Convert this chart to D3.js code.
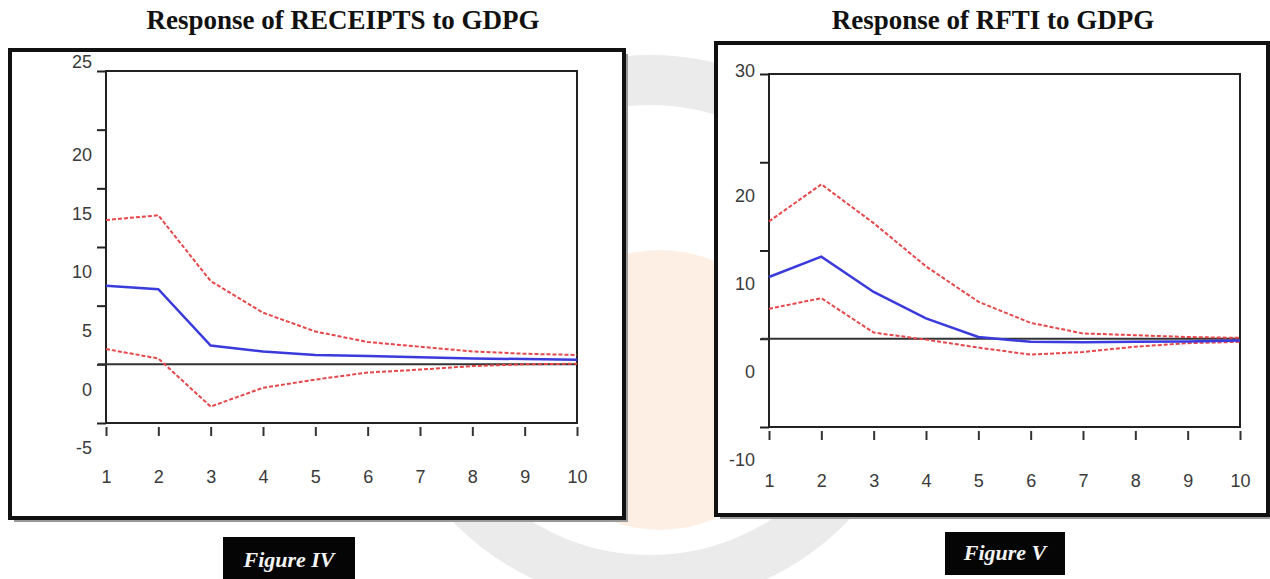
<!DOCTYPE html>
<html>
<head>
<meta charset="utf-8">
<script src="https://cdn.jsdelivr.net/npm/d3@7"></script>
<style>
  body { margin: 0; background: #fff; }
  svg { display: block; }
</style>
</head>
<body>
<script>
// impulse response data
var periods = [1, 2, 3, 4, 5, 6, 7, 8, 9, 10];

var receiptsResp  = [6.7, 6.4, 1.6, 1.1, 0.8, 0.7, 0.6, 0.5, 0.45, 0.4];
var receiptsUpper = [12.3, 12.7, 7.1, 4.4, 2.8, 1.9, 1.5, 1.1, 0.9, 0.8];
var receiptsLower = [1.3, 0.5, -3.6, -2.0, -1.3, -0.7, -0.45, -0.15, 0.0, 0.05];
var receiptsTicks = [-5, 0, 5, 10, 15, 20, 25];

var rftiResp  = [7.0, 9.3, 5.3, 2.3, 0.2, -0.35, -0.4, -0.35, -0.3, -0.2];
var rftiUpper = [13.3, 17.5, 13.1, 8.2, 4.2, 1.8, 0.6, 0.4, 0.2, 0.1];
var rftiLower = [3.4, 4.6, 0.7, -0.1, -1.0, -1.8, -1.5, -0.9, -0.5, -0.35];
var rftiTicks = [-10, 0, 10, 20, 30];

var w = 1270;
var h = 579;

var svg = d3.select("body").append("svg").attr("width", w).attr("height", h);

// faint watermark behind the figures
var wm = svg.append("g");
wm.append("circle").attr("cx", 650).attr("cy", 330).attr("r", 250)
  .style("fill", "none").style("stroke", "#ebebeb").style("stroke-width", 50);
wm.append("circle").attr("cx", 660).attr("cy", 390).attr("r", 140)
  .style("fill", "#fbe4d2").style("opacity", 0.6);

function drawPanel(p) {
  var g = svg.append("g");

  // outer box with shadow
  g.append("rect")
    .attr("x", p.box[0] + 4).attr("y", p.box[1] + 4)
    .attr("width", p.box[2] - p.box[0]).attr("height", p.box[3] - p.box[1])
    .style("fill", "#9a9a9a");
  g.append("rect")
    .attr("x", p.box[0]).attr("y", p.box[1])
    .attr("width", p.box[2] - p.box[0]).attr("height", p.box[3] - p.box[1])
    .style("fill", "white").style("stroke", "#111").style("stroke-width", 4);

  // title
  svg.append("text")
    .attr("x", p.titleX).attr("y", 29)
    .attr("text-anchor", "middle")
    .style("font-family", "'Liberation Serif', 'Times New Roman', serif")
    .style("font-weight", "bold").style("font-size", "27px").style("fill", "#111")
    .text(p.title);

  var x = d3.scaleLinear().domain([1, 10]).range(p.xr);
  var y = d3.scaleLinear().domain(d3.extent(p.ticks)).range(p.yr);

  // plot frame
  g.append("rect")
    .attr("x", x(1)).attr("y", y(d3.max(p.ticks)))
    .attr("width", x(10) - x(1)).attr("height", y(d3.min(p.ticks)) - y(d3.max(p.ticks)))
    .style("fill", "white").style("stroke", "#222").style("stroke-width", 2);

  // y axis
  var top = d3.max(p.ticks);
  var ya = g.append("g")
    .attr("transform", "translate(" + x(1) + ",0)")
    .call(d3.axisLeft(y).tickValues(p.ticks).tickSize(9).tickPadding(5)
      .tickFormat(function (d) { return String(d); }));
  ya.select(".domain").remove();
  ya.selectAll("line").style("stroke", "#222").style("stroke-width", 2);
  ya.selectAll("text")
    .attr("y", function (d) { return d === top ? p.topShift : p.labelShift; })
    .style("font-family", "'Liberation Sans', Arial, sans-serif")
    .style("font-size", "18px").style("fill", "#3a3a3a");

  // x axis
  var xa = g.append("g")
    .attr("transform", "translate(0," + (y(d3.min(p.ticks)) + 4) + ")")
    .call(d3.axisBottom(x).tickValues(periods).tickSize(9).tickPadding(p.xPad)
      .tickFormat(function (d) { return String(d); }));
  xa.select(".domain").remove();
  xa.selectAll("line").style("stroke", "#333").style("stroke-width", 2);
  xa.selectAll("text")
    .style("font-family", "'Liberation Sans', Arial, sans-serif")
    .style("font-size", "18px").style("fill", "#3a3a3a");

  // zero line
  g.append("line")
    .attr("x1", x(1) - 8).attr("x2", x(10))
    .attr("y1", y(0)).attr("y2", y(0))
    .style("stroke", "#333").style("stroke-width", 2);

  var line = d3.line()
    .x(function (d, i) { return x(periods[i]); })
    .y(function (d) { return y(d); });

  [p.upper, p.lower].forEach(function (s) {
    g.append("path").datum(s).attr("d", line)
      .style("fill", "none").style("stroke", "#e5474a")
      .style("stroke-width", 2).style("stroke-dasharray", "4,2");
  });
  g.append("path").datum(p.resp).attr("d", line)
    .style("fill", "none").style("stroke", "#3b3bdd").style("stroke-width", 2.5);

  // figure caption
  g.append("rect")
    .attr("x", p.cap[0]).attr("y", p.cap[1])
    .attr("width", p.cap[2]).attr("height", p.cap[3])
    .style("fill", "#050505");
  g.append("text")
    .attr("x", p.cap[0] + p.cap[2] / 2).attr("y", p.capBase)
    .attr("text-anchor", "middle")
    .style("font-family", "'Liberation Serif', 'Times New Roman', serif")
    .style("font-weight", "bold").style("font-style", "italic")
    .style("font-size", "22px").style("fill", "#f4f4f4")
    .text(p.caption);
}

drawPanel({
  title: "Response of RECEIPTS to GDPG", titleX: 343,
  box: [10, 50, 624, 518],
  xr: [106, 577], yr: [423, 71],
  ticks: receiptsTicks, topShift: -9, labelShift: 25, xPad: 34,
  resp: receiptsResp, upper: receiptsUpper, lower: receiptsLower,
  caption: "Figure IV", cap: [223, 537, 132, 45], capBase: 567
});

drawPanel({
  title: "Response of RFTI to GDPG", titleX: 993,
  box: [716, 43, 1268, 515],
  xr: [769, 1240], yr: [427, 74],
  ticks: rftiTicks, topShift: -3, labelShift: 33, xPad: 34,
  resp: rftiResp, upper: rftiUpper, lower: rftiLower,
  caption: "Figure V", cap: [945, 532, 120, 43], capBase: 560
});
</script>
</body>
</html>
